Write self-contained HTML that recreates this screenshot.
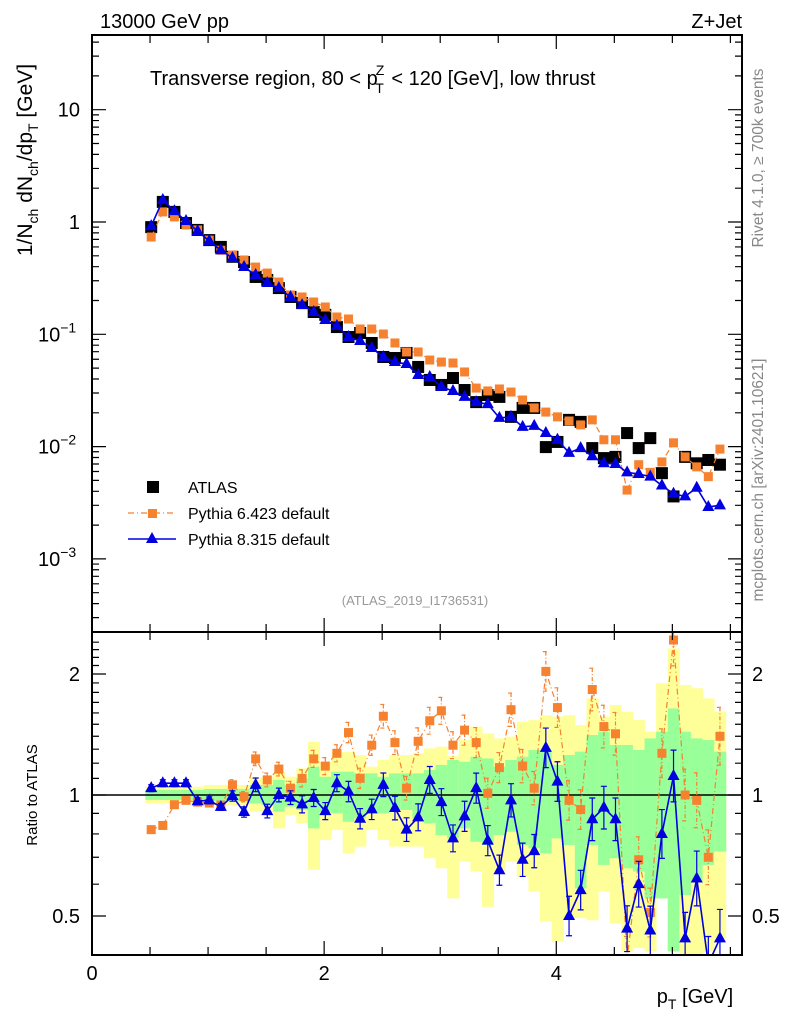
<!DOCTYPE html>
<html><head><meta charset="utf-8"><style>
html,body{margin:0;padding:0;background:#fff;}
svg{display:block;font-family:"Liberation Sans",Arial,sans-serif;}
</style></head><body>
<svg id="chart" width="786" height="1024" viewBox="0 0 786 1024" xmlns="http://www.w3.org/2000/svg">
<g id="bands"></g>
<g id="marks"></g>
<g id="axes"></g>
<text x="100" y="28" font-size="20">13000 GeV pp</text>
<text x="742" y="28" font-size="20" text-anchor="end">Z+Jet</text>
<text x="150" y="85" font-size="20">Transverse region, 80 &lt; p<tspan font-size="14" dy="-10" dx="-2">Z</tspan><tspan font-size="14" dy="18" dx="-9">T</tspan><tspan dy="-8" dx="2"> &lt; 120 [GeV], low thrust</tspan></text>
<text transform="translate(32,160) rotate(-90)" font-size="21" text-anchor="middle">1/N<tspan font-size="14" dy="6">ch</tspan><tspan dy="-6"> dN</tspan><tspan font-size="14" dy="6">ch</tspan><tspan dy="-6">/dp</tspan><tspan font-size="14" dy="6">T</tspan><tspan dy="-6"> [GeV]</tspan></text>
<text transform="translate(37,795) rotate(-90)" font-size="15" text-anchor="middle">Ratio to ATLAS</text>
<text x="695" y="1003" font-size="20" text-anchor="middle">p<tspan font-size="14" dy="6">T</tspan><tspan dy="-6"> [GeV]</tspan></text>
<text transform="translate(763,158) rotate(-90)" font-size="15.5" fill="#888" text-anchor="middle">Rivet 4.1.0, ≥ 700k events</text>
<text transform="translate(763,480) rotate(-90)" font-size="15.5" fill="#888" text-anchor="middle">mcplots.cern.ch [arXiv:2401.10621]</text>
<text x="415" y="605" font-size="13" fill="#999" text-anchor="middle">(ATLAS_2019_I1736531)</text>
<g>
<rect x="147" y="481" width="12" height="12" fill="#000"/>
<text x="188" y="493" font-size="16">ATLAS</text>
<line x1="128" y1="513" x2="176" y2="513" stroke="#f6812f" stroke-width="1.2" stroke-dasharray="6,3,1,3"/>
<rect x="148" y="509" width="9" height="9" fill="#f6812f"/>
<text x="188" y="519" font-size="16">Pythia 6.423 default</text>
<line x1="128" y1="539" x2="176" y2="539" stroke="#0000e0" stroke-width="1.5"/>
<polygon points="152,532 158,543 146,543" fill="#0000e0"/>
<text x="188" y="545" font-size="16">Pythia 8.315 default</text>
</g>
</svg>
<script>
const xCenters = [0.51,0.61,0.71,0.81,0.91,1.01,1.11,1.21,1.31,1.41,1.51,1.61,1.71,1.81,1.91,2.01,2.11,2.21,2.31,2.41,2.51,2.61,2.71,2.81,2.91,3.01,3.11,3.21,3.31,3.41,3.51,3.61,3.71,3.81,3.91,4.01,4.11,4.21,4.31,4.41,4.51,4.61,4.71,4.81,4.91,5.01,5.11,5.21,5.31,5.41];
const atlas = [0.90,1.51,1.23,0.98,0.85,0.69,0.60,0.49,0.44,0.324,0.305,0.258,0.215,0.190,0.158,0.149,0.116,0.0946,0.1027,0.0837,0.0628,0.0615,0.0682,0.0512,0.0392,0.0354,0.0408,0.0319,0.0249,0.0288,0.0277,0.0184,0.0221,0.0221,0.0099,0.0110,0.0173,0.0166,0.0097,0.0079,0.0081,0.0132,0.0097,0.0119,0.0058,0.0036,0.0081,0.0071,0.0076,0.0069];
const py6 = [0.735,1.23,1.11,0.94,0.85,0.69,0.56,0.508,0.459,0.397,0.351,0.292,0.224,0.215,0.194,0.175,0.1426,0.1368,0.1115,0.1115,0.1006,0.0837,0.0696,0.0696,0.0590,0.0566,0.0555,0.0462,0.0332,0.0313,0.0326,0.0306,0.0260,0.0221,0.0203,0.0184,0.0169,0.0156,0.0173,0.0115,0.0115,0.0041,0.0069,0.0059,0.0073,0.0108,0.0081,0.0066,0.0054,0.0095];
const py8 = [0.92,1.57,1.25,1.02,0.83,0.677,0.56,0.478,0.397,0.337,0.286,0.258,0.215,0.182,0.158,0.134,0.1186,0.0946,0.0871,0.0755,0.0628,0.0566,0.0544,0.0434,0.0417,0.0340,0.0313,0.0277,0.0249,0.0239,0.0180,0.0184,0.0150,0.0153,0.0132,0.0115,0.0088,0.0097,0.0082,0.0071,0.0070,0.0059,0.0057,0.0054,0.0045,0.0038,0.0036,0.0043,0.0029,0.0030];
const ratioPy6 = [0.82,0.84,0.946,0.97,0.96,0.955,0.944,1.06,0.99,1.23,1.09,1.16,1.04,1.10,1.23,1.18,1.27,1.43,1.10,1.33,1.57,1.35,1.04,1.36,1.53,1.62,1.33,1.45,1.35,1.01,1.17,1.63,1.18,1.04,2.03,1.65,0.97,0.92,1.83,1.48,1.42,0.39,0.69,0.51,1.27,2.43,1.00,0.97,0.70,1.40];
const ratioPy8 = [1.04,1.07,1.07,1.07,0.965,0.97,0.934,0.994,0.907,1.06,0.912,1.00,0.985,0.948,0.983,0.912,1.07,1.02,0.873,0.921,1.06,0.928,0.82,0.88,1.09,0.96,0.78,0.885,1.04,0.77,0.65,0.97,0.69,0.725,1.31,1.08,0.50,0.58,0.87,0.93,0.87,0.465,0.60,0.46,0.80,1.115,0.44,0.62,0.38,0.44];
const ratioErr = [0.02,0.02,0.02,0.02,0.02,0.02,0.02,0.03,0.03,0.04,0.04,0.04,0.04,0.05,0.05,0.05,0.05,0.06,0.06,0.06,0.07,0.07,0.07,0.08,0.08,0.08,0.08,0.09,0.09,0.09,0.09,0.1,0.1,0.1,0.12,0.12,0.12,0.12,0.13,0.13,0.13,0.14,0.14,0.15,0.15,0.16,0.16,0.17,0.17,0.18];
const yellowHi = [1.049,1.049,1.049,1.049,1.049,1.059,1.059,1.059,1.059,1.106,1.11,1.143,1.11,1.165,1.357,1.21,1.28,1.28,1.257,1.176,1.222,1.257,1.257,1.27,1.306,1.319,1.25,1.37,1.479,1.423,1.383,1.397,1.522,1.536,1.58,1.566,1.58,1.493,1.739,1.566,1.675,1.612,1.536,1.437,1.896,2.316,1.878,1.843,1.739,1.612];
const yellowLo = [0.953,0.953,0.953,0.953,0.953,0.944,0.944,0.944,0.944,0.909,0.909,0.826,0.892,0.85,0.651,0.773,0.818,0.716,0.744,0.818,0.773,0.744,0.744,0.744,0.696,0.657,0.553,0.683,0.645,0.527,0.645,0.683,0.626,0.575,0.484,0.432,0.494,0.494,0.488,0.575,0.479,0.408,0.416,0.408,0.553,0.408,0.39,0.39,0.408,0.44];
const greenHi = [1.029,1.029,1.029,1.029,1.029,1.035,1.035,1.035,1.035,1.059,1.059,1.09,1.059,1.10,1.176,1.11,1.143,1.143,1.132,1.132,1.11,1.132,1.132,1.132,1.154,1.188,1.222,1.21,1.245,1.233,1.176,1.222,1.245,1.294,1.294,1.188,1.257,1.282,1.41,1.437,1.332,1.332,1.294,1.383,1.437,1.642,1.437,1.383,1.37,1.282];
const greenLo = [0.972,0.972,0.972,0.972,0.972,0.966,0.966,0.966,0.966,0.953,0.944,0.909,0.935,0.918,0.826,0.909,0.90,0.858,0.875,0.909,0.90,0.918,0.918,0.875,0.85,0.795,0.78,0.826,0.765,0.751,0.795,0.81,0.751,0.737,0.716,0.78,0.751,0.586,0.751,0.67,0.696,0.657,0.645,0.553,0.553,0.408,0.564,0.609,0.67,0.723];
const xTicks = [0,2,4];
const yTickExp = [1,0,-1,-2,-3];
const ratioTicks = [2,1,0.5];

const NS="http://www.w3.org/2000/svg";
const L=92,R=742,T=35,MB=632,RB=955;
const X=v=>L+(R-L)*v/5.6;
const YM=v=>222-112.3*Math.log10(v);
const YR=v=>795-121*Math.log2(v);
function mk(parent,tag,attrs){const e=document.createElementNS(NS,tag);for(const k in attrs)e.setAttribute(k,attrs[k]);parent.appendChild(e);return e;}
const bands=document.getElementById('bands'),marks=document.getElementById('marks'),axes=document.getElementById('axes');
const clipR=mk(marks,'clipPath',{id:'cr'});mk(clipR,'rect',{x:L,y:MB,width:R-L,height:RB-MB});
const clipM=mk(marks,'clipPath',{id:'cm'});mk(clipM,'rect',{x:L,y:T,width:R-L,height:MB-T});
const bw=0.1;
xCenters.forEach((c,i)=>{
 const y=mk(bands,'rect',{x:X(c-bw/2),width:X(c+bw/2)-X(c-bw/2)+0.5,y:YR(Math.min(yellowHi[i],2.55)),height:YR(Math.max(yellowLo[i],0.4))-YR(Math.min(yellowHi[i],2.55)),fill:'#ffff99'});
 
 
 const g=mk(bands,'rect',{x:X(c-bw/2),width:X(c+bw/2)-X(c-bw/2)+0.5,y:YR(greenHi[i]),height:YR(Math.max(greenLo[i],0.4))-YR(greenHi[i]),fill:'#99ff99'});
 
 
});
const one=mk(marks,'line',{x1:L,x2:R,y1:YR(1),y2:YR(1),stroke:'#000','stroke-width':1.5});


function series(vals,Y,color,dash,marker,clip,name,errs,drawLine){
 const g=mk(marks,'g',{'clip-path':clip});
 
 
 if(drawLine){
  const pts=vals.map((v,i)=>X(xCenters[i])+','+Y(v)).join(' ');
  const pl=mk(g,'polyline',{points:pts,fill:'none',stroke:color,'stroke-width':marker==='tri'?1.6:1.2});
  if(dash)pl.setAttribute('stroke-dasharray',dash);
 }
 vals.forEach((v,i)=>{
  const x=X(xCenters[i]),y=Y(v);
  if(errs){const e=errs[i];const eb=mk(g,'path',{d:`M${x},${Y(v*(1+e))}V${Y(v/(1+e))}M${x-3},${Y(v*(1+e))}h6M${x-3},${Y(v/(1+e))}h6`,stroke:color,'stroke-width':1.2,fill:'none'});if(dash)eb.setAttribute('stroke-dasharray','4,2,1,2');}
  let m;
  if(marker==='tri')m=mk(g,'polygon',{points:`${x},${y-7} ${x+6},${y+4} ${x-6},${y+4}`,fill:color});
  else if(marker==='sq')m=mk(g,'rect',{x:x-4.5,y:y-4.5,width:9,height:9,fill:color});
  else m=mk(g,'rect',{x:x-6,y:y-6,width:12,height:12,fill:color});
  
  
 });
}
series(atlas,YM,'#000',null,'big','url(#cm)','atlas-series',null,false);
series(py6,YM,'#f6812f','6,3,1,3','sq','url(#cm)','pythia6-series',null,true);
series(py8,YM,'#0000e0',null,'tri','url(#cm)','pythia8-series',null,true);
series(ratioPy6,YR,'#f6812f','6,3,1,3','sq','url(#cr)','pythia6-ratio',ratioErr,true);
series(ratioPy8,YR,'#0000e0',null,'tri','url(#cr)','pythia8-ratio',ratioErr,true);
[[T,MB],[MB,RB]].forEach(([a,b],k)=>{const f=mk(axes,'rect',{x:L,y:a,width:R-L,height:b-a,fill:'none',stroke:'#000','stroke-width':2});
 
 });
let d='';
for(let v=0;v<=5.6;v+=0.5){const x=X(v);const big=Math.abs(v%2)<1e-6;const len=big?14:8;
 d+=`M${x},${MB}v${-len}M${x},${T}v${len}M${x},${RB}v${-len}M${x},${MB}v${len}`;}
for(let e=-4;e<=1;e++){for(let m=1;m<10;m++){const v=m*Math.pow(10,e);const y=YM(v);if(y<T||y>MB)continue;const len=m===1?14:7;d+=`M${L},${y}h${len}M${R},${y}h${-len}`;}}
for(let v=0.4;v<=2.5;v+=0.1){const y=YR(v);if(y<MB||y>RB)continue;const big=[0.5,1,2].some(t=>Math.abs(t-v)<1e-6);const len=big?14:7;d+=`M${L},${y}h${len}M${R},${y}h${-len}`;}
const tk=mk(axes,'path',{d,stroke:'#000','stroke-width':1.2,fill:'none'});


xTicks.forEach(v=>{const t=mk(axes,'text',{x:X(v),y:980,'font-size':20,'text-anchor':'middle'});t.textContent=v;
 
 });
yTickExp.forEach(e=>{const y=YM(Math.pow(10,e));let t;
 if(e===1||e===0){t=mk(axes,'text',{x:80,y:y+7,'font-size':20,'text-anchor':'end'});t.textContent=e===1?'10':'1';}
 else{t=mk(axes,'text',{x:38,y:y+7,'font-size':20});t.textContent='10';const s=mk(t,'tspan',{'font-size':14,dy:-9});s.textContent=String(e).replace('-','−');}
 
 });
ratioTicks.forEach(v=>{[[80,'end'],[752,'start']].forEach(([x,a])=>{const t=mk(axes,'text',{x,y:YR(v)+7,'font-size':20,'text-anchor':a});t.textContent=v;
 
 });});
</script>
</body></html>
